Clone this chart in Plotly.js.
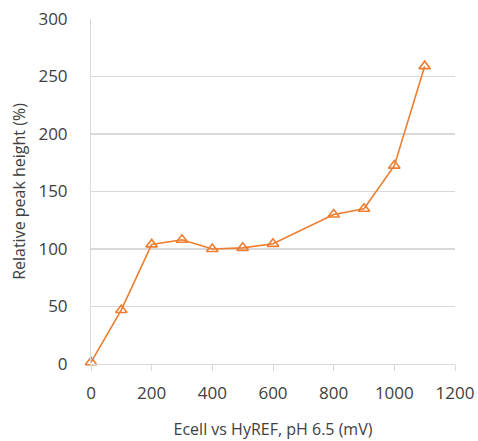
<!DOCTYPE html>
<html>
<head>
<meta charset="utf-8">
<script src="https://cdn.plot.ly/plotly-3.0.1.min.js"></script>
<style>html,body{margin:0;padding:0;background:#fff}#chart{width:478px;height:441px}</style>
</head>
<body>
<div id="chart"></div>
<script>
const potentials = [0, 100, 200, 300, 400, 500, 600, 800, 900, 1000, 1100];
const peakHeights = [1.5, 47, 104, 108, 100, 101, 104.5, 130, 135, 172.5, 259];
const xTicks = [0, 200, 400, 600, 800, 1000, 1200];
const yTicks = [0, 50, 100, 150, 200, 250, 300];

const orange = '#ED7D31';
const trace = {
  x: potentials,
  y: peakHeights,
  type: 'scatter',
  mode: 'lines+markers',
  line: {color: orange, width: 1.6},
  marker: {symbol: 'triangle-up-open', size: 10, color: orange, line: {color: orange, width: 1.6}},
  showlegend: false,
  cliponaxis: false
};

const fam = 'Open Sans, Liberation Sans, sans-serif';
const tickFont = {family: fam, size: 17, color: '#404040'};
const titleFont = {family: fam, size: 16, color: '#404040'};
const layout = {
  width: 478, height: 441,
  margin: {l: 91, r: 23, t: 19, b: 77},
  paper_bgcolor: '#fff', plot_bgcolor: '#fff',
  font: tickFont,
  xaxis: {
    range: [0, 1200], tickvals: xTicks, ticktext: xTicks.map(String),
    showgrid: false, zeroline: false,
    showline: true, linecolor: '#d9d9d9', linewidth: 1,
    ticks: 'outside', ticklen: 6, tickcolor: '#d9d9d9', tickwidth: 1,
    ticklabelstandoff: 8,
    tickfont: tickFont,
    title: {text: 'Ecell vs HyREF, pH 6.5 (mV)', font: titleFont, standoff: 20}
  },
  yaxis: {
    range: [0, 300], tickvals: yTicks, ticktext: yTicks.map(String),
    showgrid: true, gridcolor: '#d9d9d9', gridwidth: 1.3,
    zeroline: false,
    showline: true, linecolor: '#d9d9d9', linewidth: 1,
    ticks: '', ticklabelstandoff: 19,
    tickfont: tickFont,
    title: {text: 'Relative peak height (%)', font: titleFont, standoff: 8}
  }
};

Plotly.newPlot('chart', [trace], layout, {displayModeBar: false, staticPlot: true});
</script>
</body>
</html>
